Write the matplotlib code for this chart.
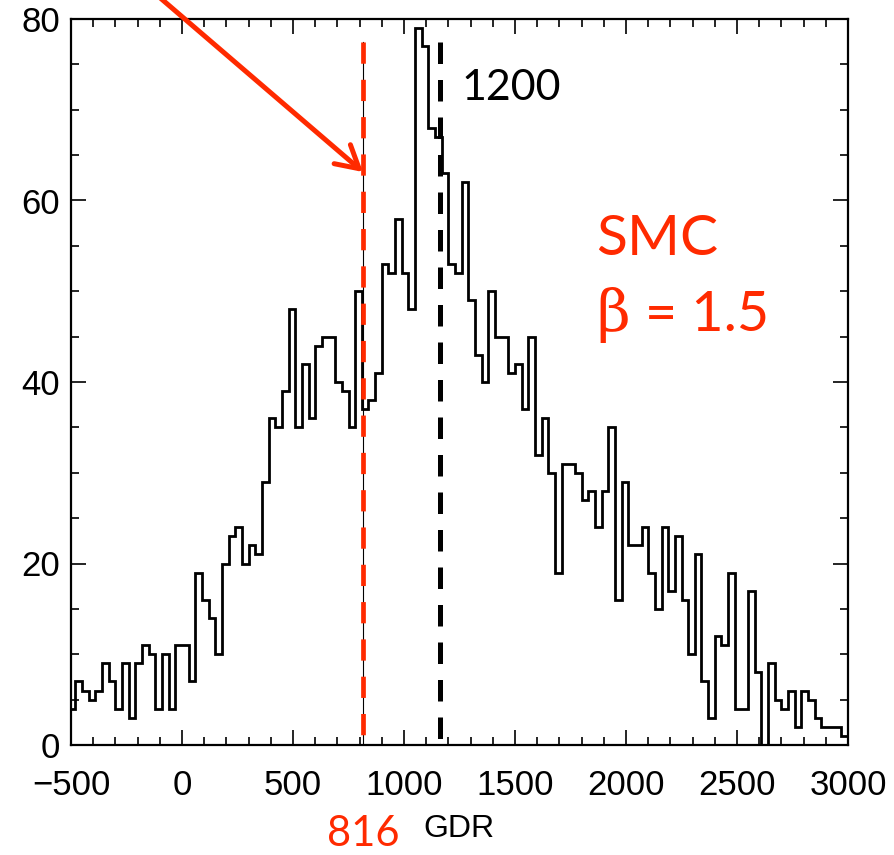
import numpy as np
import matplotlib
matplotlib.use('Agg')
import matplotlib.pyplot as plt
from matplotlib.ticker import MultipleLocator

plt.rcParams['font.family'] = ['Liberation Sans', 'DejaVu Sans']

# histogram of GDR values, bins of 30 starting at -510
bin_start = -510
bin_width = 30
counts = [4, 7, 6, 5, 6, 9, 7, 4, 9, 3,
          9, 11, 10, 4, 10, 4, 11, 11, 7, 19,
          16, 14, 10, 20, 23, 24, 20, 22, 21, 29,
          36, 35, 39, 48, 35, 42, 36, 44, 45, 45,
          40, 39, 35, 50, 37, 38, 41, 53, 52, 58,
          52, 48, 79, 77, 68, 67, 63, 53, 52, 62,
          49, 43, 40, 50, 45, 45, 41, 42, 37, 45,
          32, 36, 30, 19, 31, 31, 30, 27, 28, 24,
          28, 35, 16, 29, 22, 22, 24, 19, 15, 24,
          17, 23, 16, 10, 21, 7, 3, 12, 11, 19,
          4, 4, 17, 8, 0, 9, 5, 4, 6, 2,
          6, 5, 3, 2, 2, 2, 1]
edges = bin_start + bin_width * np.arange(len(counts) + 1)

red_line = 816      # marked value
black_line = 1162   # where the black dashed line sits
line_top = 77.5
red = '#ff2a00'

W, H = 894, 855
def fp(x, y):
    # pixel position (from top-left) to figure fraction
    return x / W, 1 - y / H

fig = plt.figure(figsize=(W / 100, H / 100), dpi=100)
ax = fig.add_axes([71 / W, 110 / H, 777 / W, 726 / H])

ax.stairs(counts, edges, color='k', lw=2.0, baseline=None)

ax.plot([red_line, red_line], [line_top, 0], color='k', lw=0.8)
ax.plot([red_line, red_line], [line_top, 0], color=red, lw=3.4, dashes=(4.5, 3.4))
ax.plot([black_line, black_line], [line_top, 0], color='k', lw=3.6, dashes=(4.3, 3.2))

ax.set_xlim(-500, 3000)
ax.set_ylim(0, 80)
ax.set_xticks(np.arange(-500, 3001, 500))
ax.set_yticks(np.arange(0, 81, 20))
ax.xaxis.set_minor_locator(MultipleLocator(100))
ax.yaxis.set_minor_locator(MultipleLocator(5))
ax.tick_params(which='both', direction='in', top=True, right=True, width=1.2)
ax.tick_params(which='major', length=11)
ax.tick_params(which='minor', length=5.5)
ax.tick_params(axis='x', which='major', labelsize=25, pad=17)
ax.tick_params(axis='y', which='major', labelsize=25, pad=8)
for s in ax.spines.values():
    s.set_linewidth(1.6)

fig.text(*fp(459, 837), 'GDR', fontsize=23, ha='center', va='baseline')

# annotations
fig.text(*fp(363, 846), '816', fontsize=30, color=red, family='Lato',
         ha='center', va='baseline')
fig.text(*fp(461, 100), '1200', fontsize=31, color='k', family='Lato',
         ha='left', va='baseline')
fig.text(*fp(596, 255), 'SMC', fontsize=41, color=red, family='Lato',
         ha='left', va='baseline')
fig.text(*fp(596, 331), '\u03b2', fontsize=42, color=red, family='DejaVu Serif',
         ha='left', va='baseline')
fig.text(*fp(645, 331), '= 1.5', fontsize=40, color=red, family='Lato',
         ha='left', va='baseline')

ax.annotate('', xy=(363, H - 172), xycoords='figure pixels',
            xytext=(158, H + 4), textcoords='figure pixels',
            arrowprops=dict(arrowstyle='->,head_length=0.8,head_width=0.45',
                            color=red, lw=3.6, mutation_scale=20,
                            shrinkA=0, shrinkB=0),
            annotation_clip=False)

fig.savefig('out.png', dpi=100)
